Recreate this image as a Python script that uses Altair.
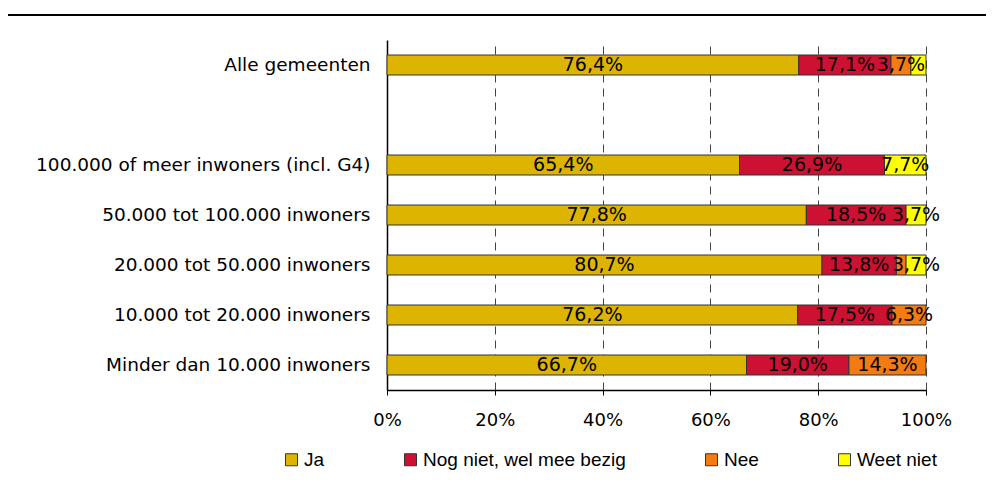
import altair as alt
import pandas as pd

categories = [
    "Alle gemeenten",
    " ",
    "100.000 of meer inwoners (incl. G4)",
    "50.000 tot 100.000 inwoners",
    "20.000 tot 50.000 inwoners",
    "10.000 tot 20.000 inwoners",
    "Minder dan 10.000 inwoners",
]
series = ["Ja", "Nog niet, wel mee bezig", "Nee", "Weet niet"]
colors = ["#DDB400", "#CC1133", "#F47A12", "#FFFF00"]

ja =        [76.4, None, 65.4, 77.8, 80.7, 76.2, 66.7]
nog_niet =  [17.1, None, 26.9, 18.5, 13.8, 17.5, 19.0]
nee =       [3.7,  None, 0.0,  0.0,  1.8,  6.3,  14.3]
weet_niet = [2.8,  None, 7.7,  3.7,  3.7,  0.0,  0.0]

rows = []
for i, cat in enumerate(categories):
    for k, (s, vals) in enumerate(zip(series, [ja, nog_niet, nee, weet_niet])):
        v = vals[i]
        if v is None or v == 0:
            continue
        lab = (f"{v:.1f}".replace(".", ",") + "%") if v >= 3 else ""
        rows.append({"cat": cat, "serie": s, "order": k, "value": v, "label": lab})
df = pd.DataFrame(rows)

FONT = "DejaVu Sans"

y_enc = alt.Y("cat:N", sort=categories,
              scale=alt.Scale(domain=categories, paddingInner=0.6, paddingOuter=0.3),
              axis=alt.Axis(title=None, ticks=False, labelFontSize=18.5, labelFont=FONT,
                            labelColor="black", labelPadding=17, domainColor="black",
                            domainWidth=1.5, labelLimit=500))

base = alt.Chart(df).transform_stack(
    stack="value", groupby=["cat"], as_=["x0", "x1"],
    sort=[alt.SortField("order", order="ascending")]
).transform_calculate(xm="(datum.x0 + datum.x1) / 2")

bars = base.mark_bar(stroke="#333333", strokeWidth=1).encode(
    x=alt.X("x0:Q", scale=alt.Scale(domain=[0, 100], nice=False),
            axis=alt.Axis(title=None, values=[0, 20, 40, 60, 80, 100],
                          labelExpr="datum.value + '%'", labelFontSize=18, labelFont=FONT,
                          labelColor="black", labelPadding=16, labelFlush=False,
                          tickSize=5, tickColor="black",
                          domainColor="black", domainWidth=1.5,
                          grid=True, gridColor="#444444", gridDash=[8, 6], gridWidth=1)),
    x2="x1:Q",
    y=y_enc,
    color=alt.Color("serie:N", scale=alt.Scale(domain=series, range=colors),
                    legend=alt.Legend(title=None, orient="none", legendX=-105, legendY=410,
                                      direction="horizontal", symbolType="square",
                                      symbolSize=144, symbolStrokeColor="#333333",
                                      symbolStrokeWidth=1, labelFont="Liberation Sans",
                                      labelFontSize=19, labelColor="black", columnPadding=76,
                                      labelOffset=3, labelLimit=400)),
)

texts = base.mark_text(font=FONT, fontSize=19, color="black", baseline="middle").encode(
    x="xm:Q",
    y=alt.Y("cat:N", sort=categories),
    text="label:N",
)

top_rule = alt.Chart(pd.DataFrame({"a": [0]})).mark_rule(color="black", strokeWidth=2).encode(
    x=alt.value(-382), x2=alt.value(620), y=alt.value(-25)
)

chart = alt.layer(bars, texts, top_rule).properties(
    width=539, height=350,
    autosize=alt.AutoSizeParams(type="none"),
    padding={"left": 379, "top": 32, "right": 60, "bottom": 108},
).configure_view(stroke=None)

chart.save("out.html", embed_options={"renderer": "svg", "actions": False})
